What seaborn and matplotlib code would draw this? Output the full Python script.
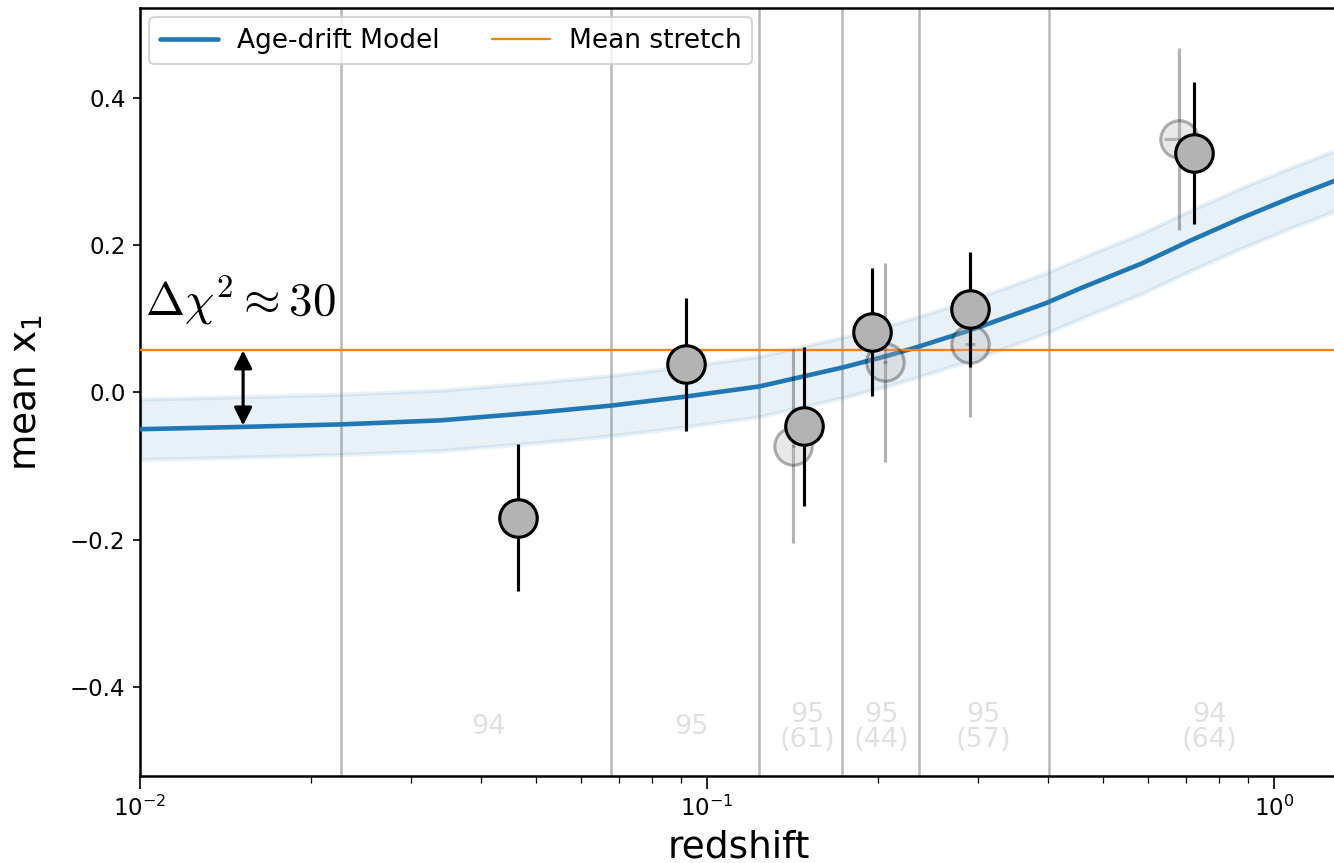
import numpy as np
import pandas as pd
import matplotlib
matplotlib.use("Agg")
import matplotlib.pyplot as plt
import seaborn as sns

# ---- data ----
z_model = [0.0100, 0.0150, 0.0226, 0.0339, 0.0509, 0.0677, 0.0911, 0.1236, 0.1466,
           0.1739, 0.2089, 0.2359, 0.2927, 0.3957, 0.4579, 0.5844, 0.7163, 0.878,
           1.076, 1.287]
y_model = [-0.050, -0.047, -0.0435, -0.038, -0.027, -0.018, -0.006, 0.008, 0.021,
           0.034, 0.050, 0.062, 0.085, 0.121, 0.142, 0.175, 0.207, 0.237, 0.265, 0.288]
band_half = 0.041

mean_stretch = 0.057

bin_edges = [0.0226, 0.0676, 0.1236, 0.1732, 0.2369, 0.4005]

z_pts = [0.0464, 0.0918, 0.148, 0.1956, 0.2915, 0.722]
x1_pts = [-0.170, 0.038, -0.046, 0.082, 0.113, 0.325]
x1_err = [0.100, 0.090, 0.108, 0.087, 0.078, 0.096]

z_alt = [0.142, 0.206, 0.2915, 0.680]
x1_alt = [-0.073, 0.041, 0.066, 0.344]
x1_alt_err = [0.132, 0.135, 0.100, 0.123]
z_alt_err = [0.001, 0.002, 0.006, 0.04]

bin_z = [0.0411, 0.0937, 0.1505, 0.2035, 0.3072, 0.770]
bin_labels = ["94", "95", "95\n(61)", "95\n(44)", "95\n(57)", "94\n(64)"]

dchi_label = r"$\Delta\chi^2 \approx 30$"

# ---- figure ----
sns.set_style("ticks")
plt.rcParams["font.family"] = ["DejaVu Sans"]
plt.rcParams["mathtext.fontset"] = "dejavusans"
for k in ["text.color", "axes.labelcolor", "xtick.color", "ytick.color", "axes.edgecolor"]:
    plt.rcParams[k] = "black"

fig = plt.figure(figsize=(1334 / 150, 863 / 150), dpi=150)
ax = fig.add_axes([140 / 1334, 1 - 776 / 863, 1.002 - 140 / 1334, (776 - 8) / 863])

for e in bin_edges:
    ax.axvline(e, color="0.72", lw=1.2, zorder=1)

df = pd.DataFrame({"z": z_model, "y": y_model})
ax.fill_between(df["z"], df["y"] - band_half, df["y"] + band_half,
                color="C0", alpha=0.1, lw=2, zorder=2)
sns.lineplot(data=df, x="z", y="y", ax=ax, color="C0", lw=2.2, zorder=3,
             label="Age-drift Model")
ax.axhline(mean_stretch, color="C1", lw=1.1, zorder=3, label="Mean stretch")

ax.errorbar(z_alt, x1_alt, yerr=x1_alt_err, xerr=z_alt_err, fmt="o", ms=18,
            mfc="0.7", mec="k", mew=1.5, ecolor="k", elinewidth=1.5,
            alpha=0.3, zorder=4)
ax.errorbar(z_pts, x1_pts, yerr=x1_err, fmt="o", ms=18,
            mfc="0.7", mec="k", mew=1.5, ecolor="k", elinewidth=1.5, zorder=5)

for zb, lab in zip(bin_z, bin_labels):
    ax.text(zb, -0.455, lab, ha="center", va="center", color="0.88",
            fontsize=13, linespacing=0.95, zorder=2)

ax.annotate("", xy=(0.0152, -0.045), xytext=(0.0152, mean_stretch),
            arrowprops=dict(arrowstyle="<|-|>", color="k", lw=1.5,
                            mutation_scale=18, shrinkA=0, shrinkB=0), zorder=6)
ax.text(0.0102, 0.105, dchi_label, fontsize=22.5, ha="left", va="baseline",
        math_fontfamily="cm")

ax.set_xscale("log")
ax.set_xlim(0.01, 1.29)
ax.set_ylim(-0.521, 0.522)
ax.set_yticks([-0.4, -0.2, 0.0, 0.2, 0.4])
ax.set_yticklabels(["\u22120.4", "\u22120.2", "0.0", "0.2", "0.4"])
ax.tick_params(axis="both", labelsize=11, direction="out", color="k", labelcolor="k")
ax.tick_params(axis="x", which="minor", length=3.5, color="k")
ax.tick_params(axis="x", which="major", length=6)
ax.set_xlabel("redshift", fontsize=18, labelpad=4)
ax.set_ylabel("mean x$_1$", fontsize=18, labelpad=12)
for s in ax.spines.values():
    s.set_visible(True)
    s.set_color("k")
    s.set_linewidth(1.2)

leg = ax.legend(loc="upper left", ncol=2, fontsize=12.7, frameon=True,
                columnspacing=2.0, handlelength=2.2, handletextpad=0.7,
                borderaxespad=0.35, bbox_to_anchor=(0.0, 1.0))
leg.get_frame().set_alpha(0.8)
leg.get_frame().set_edgecolor("0.8")
leg.set_zorder(10)

fig.savefig("out.png", dpi=150)
